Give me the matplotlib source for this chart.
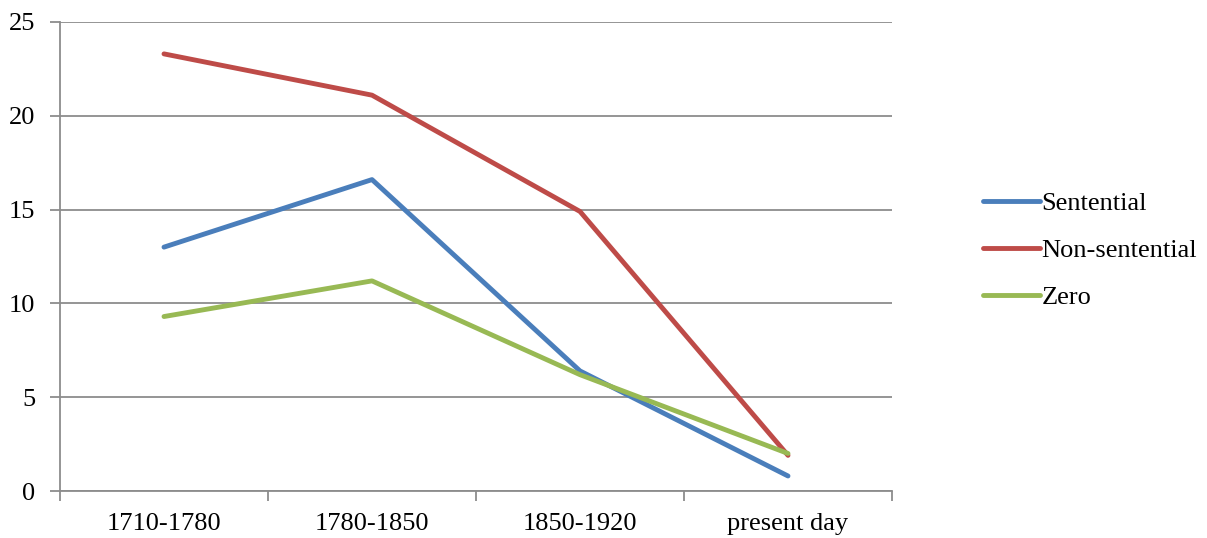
import matplotlib.pyplot as plt
import numpy as np

plt.rcParams['font.family'] = ['Liberation Serif', 'DejaVu Serif']

periods = ['1710-1780', '1780-1850', '1850-1920', 'present day']
sentential = [13.0, 16.6, 6.4, 0.8]
non_sentential = [23.3, 21.1, 14.9, 1.9]
zero = [9.3, 11.2, 6.2, 2.0]

fig = plt.figure(figsize=(12.07, 5.38), dpi=100)
ax = fig.add_axes([60 / 1207, 1 - 491 / 538, 832 / 1207, 469 / 538])

x = np.arange(len(periods)) + 0.5
ax.plot(x, sentential, color='#4A7EBB', lw=3.5, label='Sentential', solid_capstyle='round', zorder=3)
ax.plot(x, non_sentential, color='#BE4B48', lw=3.5, label='Non-sentential', solid_capstyle='round', zorder=3)
ax.plot(x, zero, color='#98B954', lw=3.5, label='Zero', solid_capstyle='round', zorder=3)

ax.set_xlim(0, len(periods))
ax.set_ylim(0, 25)
ax.set_yticks(range(0, 26, 5))
ax.yaxis.grid(True, color='#8C8C8C', lw=1.3)
ax.set_axisbelow(True)

ax.set_xticks(range(len(periods) + 1))
ax.set_xticklabels([])
ax.set_xticks(x, minor=True)
ax.set_xticklabels(periods, minor=True)
ax.tick_params(axis='x', which='major', length=7, width=1.3, color='#8C8C8C', direction='out')
ax.tick_params(axis='x', which='minor', length=0, labelsize=19, pad=16)
ax.tick_params(axis='y', length=7, width=1.3, color='#8C8C8C', direction='out', labelsize=19, pad=11)

for s in ['top', 'right']:
    ax.spines[s].set_visible(False)
for s in ['left', 'bottom']:
    ax.spines[s].set_color('#8C8C8C')
    ax.spines[s].set_linewidth(1.3)

fig.legend(loc='center left', bbox_to_anchor=(983 / 1207, 1 - 250.5 / 538), frameon=False,
           fontsize=19, handlelength=2.16, handletextpad=0.05, labelspacing=0.9,
           borderpad=0, borderaxespad=0)

fig.savefig('out.png', dpi=100)
